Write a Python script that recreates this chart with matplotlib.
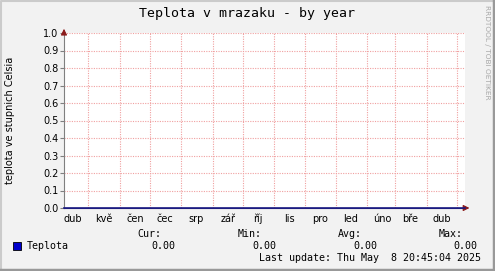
import numpy as np
import matplotlib
matplotlib.use("Agg")
import matplotlib.pyplot as plt
import matplotlib.dates as mdates
from matplotlib.lines import Line2D
from datetime import datetime

# data
times = [datetime(2024, 4, 6, 20, 45), datetime(2025, 5, 8, 20, 45)]
teplota = [0.0, 0.0]
month_starts = [datetime(2024, m, 1) for m in range(5, 13)] + [datetime(2025, m, 1) for m in range(1, 6)]
month_mids = [datetime(2024, m, 16) for m in range(4, 13)] + [datetime(2025, m, 16) for m in range(1, 5)]
month_labels = ["dub", "kvě", "čen", "čec", "srp", "zář", "říj", "lis", "pro", "led", "úno", "bře", "dub"]
y_ticks = [0.0, 0.1, 0.2, 0.3, 0.4, 0.5, 0.6, 0.7, 0.8, 0.9, 1.0]
stats = {"Cur:": 0.00, "Min:": 0.00, "Avg:": 0.00, "Max:": 0.00}

W, H = 495, 271
fig = plt.figure(figsize=(W / 100, H / 100), dpi=100)
fig.patch.set_facecolor("#F2F2F2")

ax = fig.add_axes([64 / W, 1 - 208 / H, 401 / W, 175 / H])
ax.set_facecolor("white")
grid_col = "#F0A0A0"

ax.plot(times, teplota, color="#1A1A80", lw=1.2, zorder=5, clip_on=False)
ax.set_xlim(times[0], times[-1])
ax.set_ylim(0, 1.0)

for d in month_starts:
    ax.axvline(d, color=grid_col, lw=0.8, ls=(0, (1, 1.2)), zorder=1)
for y in y_ticks[1:]:
    ax.axhline(y, color=grid_col, lw=0.8, ls=(0, (1, 1.2)), zorder=1)

ax.set_yticks(y_ticks)
ax.set_yticklabels(["%.1f" % v for v in y_ticks])
ax.set_xticks(month_mids)
ax.set_xticklabels(month_labels)
ax.tick_params(axis="x", length=0, labelsize=7, pad=4)
ax.tick_params(axis="y", length=3, width=0.8, color="#808080", labelsize=7, pad=1)

for s in ["top", "right"]:
    ax.spines[s].set_visible(False)
ax.spines["left"].set_color("#808080")
ax.spines["bottom"].set_color("#1A1A80")

# arrows
ax.annotate("", xy=(1.018, 0), xycoords="axes fraction", xytext=(0.995, 0),
            arrowprops=dict(arrowstyle="-|>", color="#8B1A1A", lw=0.8, mutation_scale=9))
ax.annotate("", xy=(0, 1.04), xycoords="axes fraction", xytext=(0, 0.99),
            arrowprops=dict(arrowstyle="-|>", color="#8B1A1A", lw=0.8, mutation_scale=9))

ax.set_ylabel("teplota ve stupnich Celsia", fontsize=7)
ax.yaxis.set_label_coords(-0.122, 0.5)

mono = "DejaVu Sans Mono"
fig.text(247 / W, 1 - 13 / H, "Teplota v mrazaku - by year", family=mono,
         fontsize=9.5, ha="center", va="center")
fig.text(487 / W, 1 - 5 / H, "RRDTOOL / TOBI OETIKER", rotation=-90,
         fontsize=5.3, color="#A8A8A8", ha="center", va="top")

# legend
fig.patches.append(plt.Rectangle((13 / W, 1 - 250 / H), 8 / W, 8 / H, transform=fig.transFigure,
                                 facecolor="#0000CC", edgecolor="black", lw=0.6))
fig.text(27 / W, 1 - 246 / H, "Teplota", family=mono, fontsize=7.2, va="center")
label_x = [161, 262, 362, 463]
value_x = [175, 276, 377, 477]
for (name, val), lx, vx in zip(stats.items(), label_x, value_x):
    fig.text(lx / W, 1 - 234 / H, name, family=mono, fontsize=7.2, ha="right", va="center")
    fig.text(vx / W, 1 - 246 / H, "%.2f" % val, family=mono, fontsize=7.2, ha="right", va="center")
fig.text(481 / W, 1 - 258 / H, "Last update: Thu May  8 20:45:04 2025", family=mono,
         fontsize=7.2, ha="right", va="center")

# 3d frame
fig.lines.append(Line2D([0.5 / W, 0.5 / W, 1 - 0.5 / W], [0, 1 - 0.5 / H, 1 - 0.5 / H],
                        transform=fig.transFigure, color="#CBCBCB", lw=1.5))
fig.lines.append(Line2D([1 / W, 1 - 1.5 / W, 1 - 1.5 / W], [1.5 / H, 1.5 / H, 1 - 1 / H],
                        transform=fig.transFigure, color="#999999", lw=2.5))

fig.savefig("out.png", dpi=100, facecolor=fig.get_facecolor())
